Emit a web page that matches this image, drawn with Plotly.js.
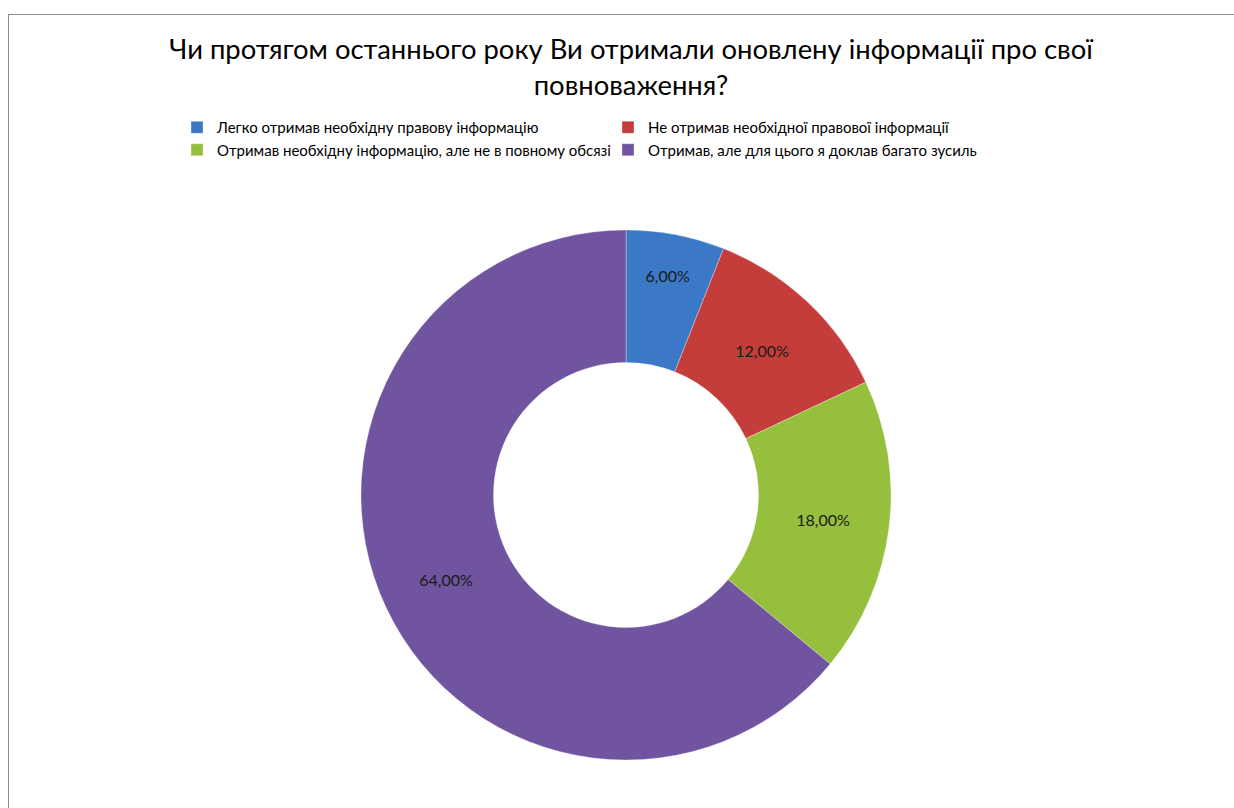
<!DOCTYPE html>
<html>
<head>
<meta charset="utf-8">
<script src="https://cdn.plot.ly/plotly-3.0.1.min.js"></script>
<style>
html,body{margin:0;padding:0;background:#fff;}
#frame{position:absolute;left:8px;top:14px;width:1300px;height:900px;border-left:1.5px solid #8a8a8a;border-top:1.5px solid #8a8a8a;pointer-events:none;z-index:5;}
#chart{width:1234px;height:808px;}
</style>
</head>
<body>
<div id="frame"></div>
<div id="chart"></div>
<script>
var categories = [
  "Легко отримав необхідну правову інформацію",
  "Не отримав необхідної правової інформації",
  "Отримав необхідну інформацію, але не в повному обсязі",
  "Отримав, але для цього я доклав багато зусиль"
];
var values = [6, 12, 18, 64];
var colors = ["#3b79c6", "#c43d3a", "#95bf3d", "#7054a0"];
var titleText = "Чи протягом останнього року Ви отримали оновлену інформації про свої<br>повноваження?";

var W = 1234, H = 808;
var cx = 626, cy = 495, R = 265;
var FONT = "Lato, 'Noto Sans', sans-serif";

var trace = {
  type: "pie",
  labels: categories,
  values: values,
  sort: false,
  direction: "clockwise",
  rotation: 0,
  hole: 0.5,
  marker: {colors: colors, line: {color: "rgba(255,255,255,0.3)", width: 1}},
  texttemplate: "%{value:.2f}%",
  textposition: "inside",
  insidetextorientation: "horizontal",
  textfont: {family: FONT, size: 16, color: "#1a1a1a"},
  hoverinfo: "label+percent",
  domain: {x: [(cx - R) / W, (cx + R) / W], y: [(H - cy - R) / H, (H - cy + R) / H]}
};

var layout = {
  width: W, height: H,
  margin: {l: 0, r: 0, t: 0, b: 0},
  paper_bgcolor: "#ffffff",
  separators: ", ",
  font: {family: FONT, color: "#000"},
  title: {
    text: titleText,
    font: {size: 27.4, color: "#000", family: FONT},
    x: 631 / W, xanchor: "center",
    y: 1 - 59 / H, yanchor: "top"
  },
  showlegend: true,
  legend: {
    orientation: "h",
    x: 177 / W, xanchor: "left",
    y: 1 - 111 / H, yanchor: "top",
    entrywidth: 386, entrywidthmode: "pixels",
    font: {size: 15, color: "#000", family: FONT},
    itemclick: false, itemdoubleclick: false
  }
};

Plotly.newPlot("chart", [trace], layout, {displayModeBar: false});
</script>
</body>
</html>
